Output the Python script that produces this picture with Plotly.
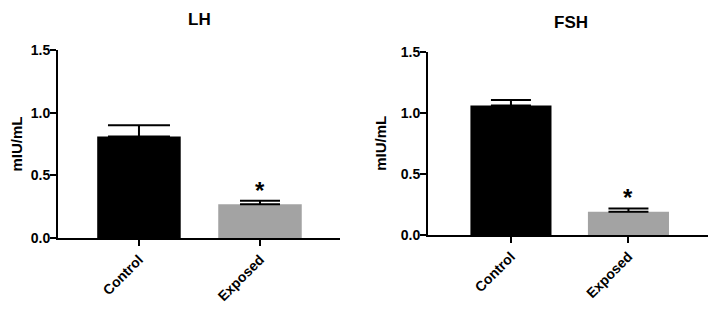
import plotly.graph_objects as go

groups = ["Control", "Exposed"]
lh_mean = [0.81, 0.27]
lh_sem = [0.09, 0.027]
fsh_mean = [1.06, 0.19]
fsh_sem = [0.045, 0.027]
bar_colors = ["#000000", "#a3a3a3"]
yticks = [0.0, 0.5, 1.0, 1.5]
ytick_text = ["0.0", "0.5", "1.0", "1.5"]
panel_titles = ["LH", "FSH"]
signif = ["", "*"]

FONT = "Liberation Sans, Arial, sans-serif"
W, H, OFF = 719, 310, 8  # page body margin offset


def dx(s):
    return (s - OFF) / W


def dy(s):
    return (H - (s - OFF)) / H


fig = go.Figure()

panels = [
    dict(means=lh_mean, sems=lh_sem, xa="x", ya="y", capw=[31, 20]),
    dict(means=fsh_mean, sems=fsh_sem, xa="x2", ya="y2", capw=[20, 20]),
]

for p in panels:
    for i, g in enumerate(groups):
        fig.add_trace(go.Bar(
            x=[g], y=[p["means"][i]],
            marker=dict(color=bar_colors[i], line=dict(width=0)),
            width=0.69,
            error_y=dict(type="data", array=[p["sems"][i]], arrayminus=[0],
                         symmetric=False, color="#000000", thickness=2,
                         width=p["capw"][i]),
            xaxis=p["xa"], yaxis=p["ya"], showlegend=False,
        ))
        if signif[i]:
            fig.add_annotation(
                x=g, y=p["means"][i] + p["sems"][i], xref=p["xa"], yref=p["ya"],
                text="<b>" + signif[i] + "</b>", showarrow=False,
                yanchor="bottom", yshift=-5,
                font=dict(family=FONT, size=24, color="#000000"),
            )

axis_common = dict(showline=True, linecolor="#000000", linewidth=2,
                   ticks="outside", ticklen=6, tickwidth=2, tickcolor="#000000",
                   showgrid=False, zeroline=False, automargin=False)
tickfont = dict(family=FONT, size=14, color="#000000", weight="bold")
ytitle_font = dict(family=FONT, size=15, color="#000000", weight="bold")

fig.update_layout(
    width=W, height=H,
    margin=dict(l=0, r=0, t=0, b=0, autoexpand=False),
    paper_bgcolor="white", plot_bgcolor="white",
    xaxis=dict(domain=[dx(58), dx(340)], range=[-0.669, 1.661], anchor="y",
               tickangle=-45, tickfont=tickfont, **axis_common),
    yaxis=dict(domain=[dy(238), dy(50)], range=[0, 1.5], anchor="x",
               tickvals=yticks, ticktext=ytick_text, tickfont=tickfont,
               ticklabelstandoff=-3,
               title=dict(text="mIU/mL", standoff=10, font=ytitle_font),
               **axis_common),
    xaxis2=dict(domain=[dx(428), dx(708)], range=[-0.706, 1.677], anchor="y2",
                tickangle=-45, tickfont=tickfont, **axis_common),
    yaxis2=dict(domain=[dy(235), dy(51.7)], range=[0, 1.5], anchor="x2",
                tickvals=yticks, ticktext=ytick_text, tickfont=tickfont,
                ticklabelstandoff=-3,
                title=dict(text="mIU/mL", standoff=10, font=ytitle_font),
                **axis_common),
)

title_pos = [(dx(199), dy(19.5)), (dx(571), dy(22.5))]
for t, (xp, yp) in zip(panel_titles, title_pos):
    fig.add_annotation(x=xp, y=yp, xref="paper", yref="paper", text="<b>" + t + "</b>",
                       showarrow=False, xanchor="center", yanchor="middle",
                       font=dict(family=FONT, size=17, color="#000000"))

fig.write_html("out.html")
